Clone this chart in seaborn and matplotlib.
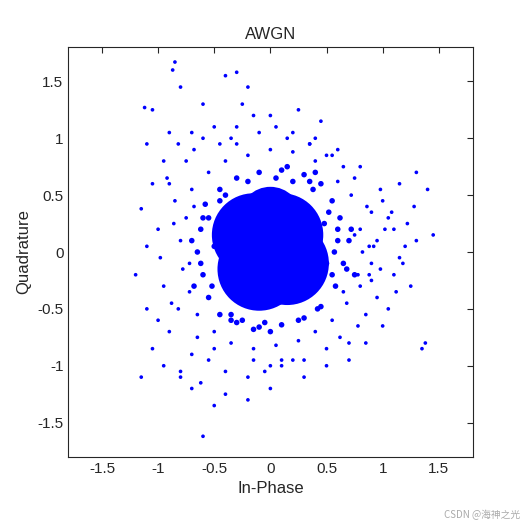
import matplotlib
matplotlib.use("Agg")
import matplotlib.pyplot as plt
import seaborn as sns
import pandas as pd

# dense core (few big overlapping markers form the solid blob)
core_x = [0.0, 0.1, -0.1, 0.15, -0.15, 0.0]
core_y = [0.0, 0.15, -0.15, -0.1, 0.15, 0.3]
core_s = [5200, 3600, 3600, 3600, 3600, 2000]

# medium-density fringe of the blob
mid_x = [0.6,0.65,0.62,0.55,0.45,0.3,0.1,-0.1,-0.3,-0.45,-0.58,-0.62,-0.65,-0.6,-0.55,-0.45,-0.3,-0.1,0.1,0.3,0.45,0.58,0.7,0.5,-0.5,
         0.52,0.38,0.2,-0.2,-0.4,-0.52,0.42,0.55,0.25,-0.05,-0.35,-0.55,0.68,0.72,-0.7,0.05,0.48,-0.25,
         0.57,0.6,-0.6,-0.62,0.35,-0.35,0.15,-0.15,0.0,0.4,-0.45,0.75,-0.68]
mid_y = [0.1,-0.1,0.3,0.45,0.6,0.68,0.72,0.7,0.65,0.55,0.42,0.2,0,-0.2,-0.4,-0.55,-0.62,-0.66,-0.64,-0.58,-0.48,-0.3,0.1,-0.1,0.05,
         0.35,0.55,0.62,0.62,0.5,-0.3,-0.5,-0.2,-0.6,-0.62,-0.55,0.3,-0.15,0.2,0.1,0.65,0.25,-0.6,
         0.0,0.2,0.3,-0.1,0.62,-0.6,0.75,-0.68,-0.7,0.7,0.45,-0.2,-0.3]

# scattered outer points
out_x = [0.8,0.72,0.6,0.4,0.2,0,-0.2,-0.4,-0.55,-0.7,-0.75,-0.8,-0.78,-0.72,-0.65,-0.5,-0.35,-0.15,0.05,0.25,0.4,0.55,0.68,0.8,0.9,0.95,0.9,
         1.0,1.1,1.2,1.25,1.38,1.35,1.45,1.4,1.3,1.28,1.15,1.05,1.0,0.85,0.7,0.5,0.3,0.0,-0.2,-0.6,-0.4,-0.7,-0.8,-0.95,-1.15,-1.05,-1.1,-1.2,-1.1,-1.15,-1.05,-1.1,-1.12,-1.05,-0.85,-0.87,-0.8,-0.6,-0.4,-0.3,-0.2,-0.25,0.0,0.2,0.4,0.6,0.45,0.8,-0.95,-0.9,-0.7,-0.5,-0.3,-0.1,-1.0,-0.95,-0.9,-0.7,-0.4,-0.2,0.1,1.1,0.95,
         0.85,0.75,1.05,1.18,1.22,0.98,0.88,-0.85,-0.88,-0.92,-0.98,-0.6,-0.45,0.15,0.35,0.55,0.65,-0.65,-0.75,-0.55,0.3,0.1,-0.05,1.3,1.12,0.92,-1.0,-0.8,-0.62,-0.5,0.5,0.7,0.78,0.62,-0.15,0.05,0.25,-0.35,-0.68,-0.82,1.02,0.88,
         0.82,0.78,0.86,0.9,-0.82,-0.86,0.75,0.65,-0.72,-0.68,0.2,-0.3,0.5,-0.5,0.0,1.08,1.15,0.98,-0.9,0.35,-0.15]
out_y = [0.2,0.5,0.62,0.8,0.88,0.9,0.85,0.8,0.7,0.55,0.3,0.1,-0.15,-0.35,-0.55,-0.7,-0.8,-0.85,-0.82,-0.78,-0.7,-0.6,-0.45,-0.3,-0.1,0.1,0.35,
         0.45,0.2,0.05,-0.3,-0.8,-0.85,0.15,0.55,0.7,0.4,0.6,-0.5,-0.65,-0.8,-0.95,-1.0,-1.1,-1.2,-1.3,-1.62,-1.25,-1.2,-1.05,-1.0,-1.1,-0.85,-0.5,-0.2,0.05,0.38,0.6,0.95,1.27,1.25,1.67,1.6,1.45,1.3,1.55,1.58,1.45,1.3,1.2,1.05,1.0,0.9,1.15,0.75,0.8,1.05,1.05,1.1,1.1,1.05,0.2,-0.3,-0.7,-0.9,-1.05,-1.1,-1.0,-0.2,-0.4,
         -0.55,0.65,0.3,-0.1,0.25,0.55,-0.2,0.45,-0.45,0.65,-0.05,1.0,0.95,1.0,0.95,0.85,0.75,-0.75,0.8,-0.95,-0.95,-0.95,-1.05,0.1,-0.35,0.05,-0.6,-1.1,-1.15,-1.35,-0.85,-0.8,-0.65,-0.75,1.2,1.1,1.25,1.0,0.9,0.95,0.2,0.05,
         0.0,-0.2,0.4,-0.25,-0.5,0.25,0.15,-0.35,-0.1,0.4,-0.95,0.95,0.85,-0.85,-1.0,0.35,-0.05,-0.15,0.6,0.95,-0.95]

df = pd.concat([
    pd.DataFrame({"x": core_x, "y": core_y, "s": core_s}),
    pd.DataFrame({"x": mid_x, "y": mid_y, "s": [16] * len(mid_x)}),
    pd.DataFrame({"x": out_x, "y": out_y, "s": [7] * len(out_x)}),
])

sns.set_style("white")
plt.rcParams['font.family'] = ['Arial', 'Liberation Sans', 'DejaVu Sans']
fig, ax = plt.subplots(figsize=(5.25, 5.25), dpi=100)
fig.subplots_adjust(left=0.13, right=0.9, top=0.91, bottom=0.13)
sns.scatterplot(data=df, x="x", y="y", size="s", sizes=(min(df.s), max(df.s)),
                color="#0000ff", edgecolor="none", linewidth=0, ax=ax, legend=False)
ax.set_xlim(-1.8, 1.8)
ax.set_ylim(-1.8, 1.8)
ticks = [-1.5, -1, -0.5, 0, 0.5, 1, 1.5]
ax.set_xticks(ticks)
ax.set_yticks(ticks)
ax.set_xticklabels(["-1.5", "-1", "-0.5", "0", "0.5", "1", "1.5"])
ax.set_yticklabels(["-1.5", "-1", "-0.5", "0", "0.5", "1", "1.5"])
ax.tick_params(direction="in", length=4, labelsize=11, color="#262626", top=True, right=True)
for sp in ax.spines.values():
    sp.set_color("#262626"); sp.set_linewidth(0.8)
ax.set_xlabel("In-Phase", fontsize=12)
ax.set_ylabel("Quadrature", fontsize=12)
ax.set_title("AWGN", fontsize=12)
fig.text(0.99, 0.01, "CSDN @海神之光", ha="right", va="bottom", fontsize=7, color="#aaaaaa",
         family=["Noto Sans CJK SC", "DejaVu Sans"])
fig.savefig("out.png")
